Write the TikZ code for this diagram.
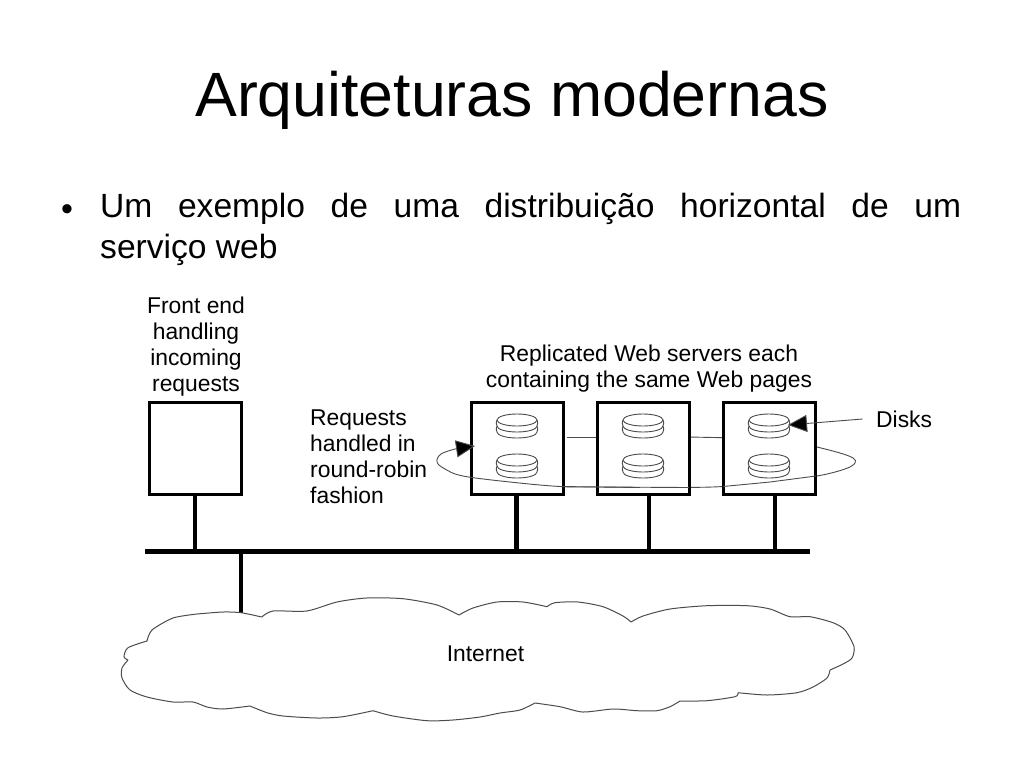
\documentclass[tikz,border=0pt]{standalone}
\usepackage{fontspec}
\setmainfont{Liberation Sans}
\usetikzlibrary{arrows.meta}
\tikzset{
  box/.style={draw=black,line width=3pt,minimum width=92pt,minimum height=92pt,inner sep=0pt,fill=white},
  stem/.style={line width=4.5pt,black},
  lbl/.style={font=\fontsize{22.85}{26}\selectfont,inner sep=0pt,align=center,text=black},
  lblleft/.style={font=\fontsize{22.85}{26}\selectfont,inner sep=0pt,align=left,text=black},
  thin line/.style={line width=0.9pt,draw=black!70},
  tipped/.style={-{Triangle[length=19pt,width=17pt,fill=black]}},
  disk/.pic={
    \draw[thin line] (-20,0) arc[start angle=180,end angle=-180,x radius=20,y radius=6];
    \draw[thin line] (-20,0) .. controls (-21,2) and (-21,4) .. (-20,6) .. controls (-21,8) and (-21,10) .. (-20,12);
    \draw[thin line] (20,0) .. controls (21,2) and (21,4) .. (20,6) .. controls (21,8) and (21,10) .. (20,12);
    \draw[thin line] (-20,6) arc[start angle=180,end angle=0,x radius=20,y radius=6];
    \draw[thin line] (-20,12) arc[start angle=180,end angle=0,x radius=20,y radius=6];
  }
}
\begin{document}
\begin{tikzpicture}[x=1pt,y=-1pt]
\useasboundingbox[fill=white] (0,0) rectangle (1024,768);
% title and text
\node[anchor=center,inner sep=0pt,font=\fontsize{62.6}{70}\selectfont] (title) at (512,100) {Arquiteturas modernas};
\node[anchor=base west,inner sep=0pt,font=\fontsize{34}{41}\selectfont] (bullet) at (61,220) {•};
\node[anchor=north west,inner sep=0pt,text width=861pt,align=justify,font=\fontsize{33.6}{41}\selectfont] (body) at (100,193) {Um exemplo de uma distribuição horizontal de um\linebreak serviço web};
% bar
\coordinate (barL) at (145,551.5);
\coordinate (barR) at (810,551.5);
\draw[stem] (barL) -- (barR);
% labels
\node[lbl] (felabel) at (196,346.5) {Front end\\handling\\incoming\\requests};
\node[lbl] (replabel) at (649,369) {Replicated Web servers each\\containing the same Web pages};
\node[lblleft,anchor=north west] (rrlabel) at (310,409.5) {Requests\\handled in\\round-robin\\fashion};
\node[lblleft,anchor=west,inner xsep=13.5pt] (disks) at (862.5,419) {Disks};
\node[lbl] (inet) at (485.5,653.5) {Internet};
% ring, behind the boxes
\coordinate (ringend) at (475,446);
\draw[thin line] plot[smooth,tension=0.6] coordinates {(560,486.5) (600,487) (640,487.5) (680,487.5) (723,486.5) (770,482) (817,476) (845,469) (855,463) (853,458) (840,453) (817,447)};
\draw[thin line] (567,437.7) -- (597,437.7);
\draw[thin line] (689,437) -- (723,437.7);
% boxes
\node[box] (fe) at (195,448) {};
\node[box] (s1) at (517,448) {};
\node[box] (s2) at (643,448) {};
\node[box] (s3) at (769.5,448) {};
% ring over first box and on to the arrowhead
\draw[thin line,tipped] plot[smooth,tension=0.6] coordinates {(640,487.5) (600,487) (560,486.5) (510,482) (463,476) (445,469) (437,462) (441,454) (455,449)} -- (ringend);
\draw[thin line] (597,487) -- (689,487.5);
\draw[thin line] (723,486.5) -- (770,482) -- (816,476);
% disks
\foreach \x in {517,643,769}{
  \pic at (\x,420) {disk};
  \pic at (\x,460) {disk};
}
% stems
\draw[stem] (fe.south) -- (fe.south |- barL);
\coordinate (s1foot) at (516.7,494);
\coordinate (s2foot) at (649,494);
\coordinate (s3foot) at (775,494);
\draw[stem] (s1foot) -- (s1foot |- barL);
\draw[stem] (s2foot) -- (s2foot |- barL);
\draw[stem] (s3foot) -- (s3foot |- barL);
\coordinate (inettop) at (241,612.7);
\draw[stem] (inettop |- barL) -- (inettop);
% disks arrow
\coordinate (disktip) at (788,425);
\draw[thin line,tipped] (disks.west) -- (disktip);
% cloud
\draw[line width=1pt,draw=black!70]
 plot[smooth,tension=0.45] coordinates {(197,614) (223,612) (241,612.7) (261.7,617)}
 plot[smooth,tension=0.45] coordinates {(261.7,617) (273,611) (306.7,611) (337,602) (366.7,598) (403,598.7) (437,605) (459,615)}
 plot[smooth,tension=0.45] coordinates {(459,615) (473,608) (497,602) (523,602) (547,606.7)}
 plot[smooth,tension=0.45] coordinates {(547,606.7) (555,602.7) (578,602) (603,606.7) (623,616) (631,622)}
 plot[smooth,tension=0.45] coordinates {(631,622) (643,616) (670,609) (707,605.7) (747,605.7) (770,609) (790,616.7) (810,616.7) (833,622.7) (845,630) (854,646.7) (852,658) (843,664) (830,670)}
 plot[smooth,tension=0.45] coordinates {(830,670) (827,678) (813,687) (797,692.7) (767,695) (738,692.7)}
 plot[smooth,tension=0.45] coordinates {(738,692.7) (735,696.7) (707,700.7) (680,701)}
 plot[smooth,tension=0.45] coordinates {(680,701) (670,706.7) (657,710.7) (637,710.7) (613,709) (583,712) (560,706.7) (535,703)}
 plot[smooth,tension=0.45] coordinates {(535,703) (520,710) (500,713) (480,717) (453,720) (427,720.7) (393,716) (373,710.7)}
 plot[smooth,tension=0.45] coordinates {(373,710.7) (343,716.7) (317,718) (283,716) (267,712.7) (250,706)}
 plot[smooth,tension=0.45] coordinates {(250,706) (223,709) (207,707) (193,702) (173,702) (147,697) (130,690) (122,678) (122,668) (128,660)}
 plot[smooth,tension=0.45] coordinates {(128,660) (124,656.7) (128,647.7) (147,641)}
 plot[smooth,tension=0.45] coordinates {(147,641) (152,630) (173,618) (197,614)};
\end{tikzpicture}
\end{document}
